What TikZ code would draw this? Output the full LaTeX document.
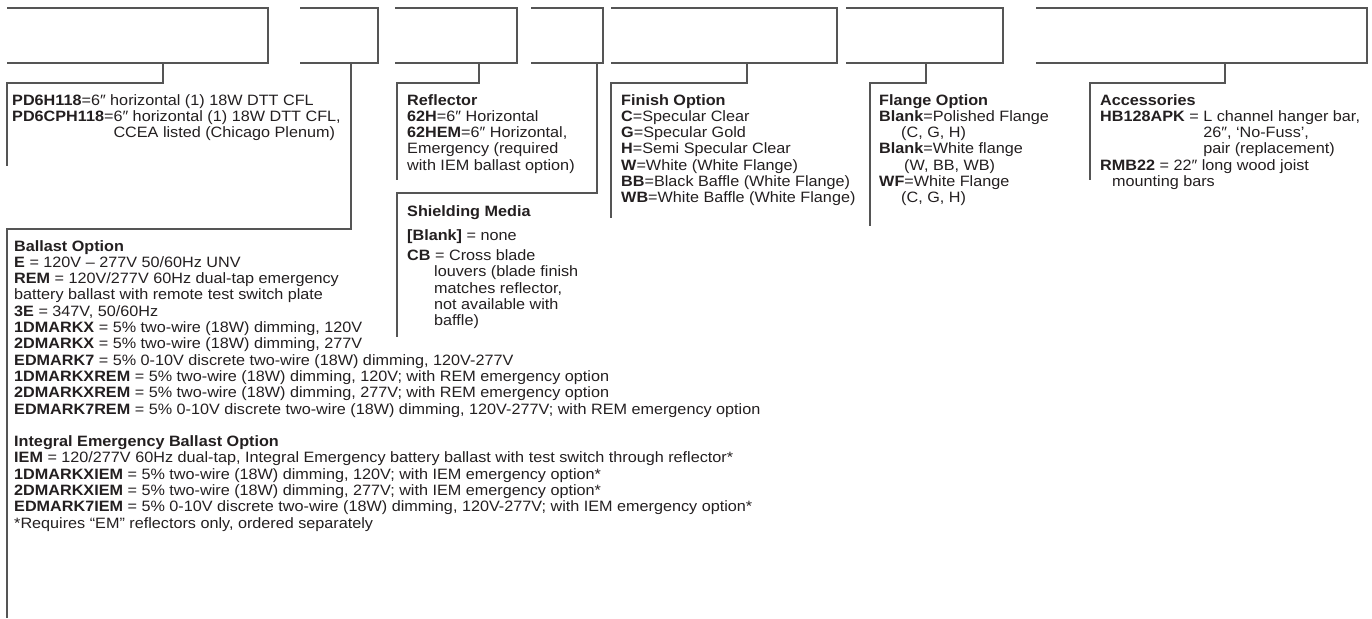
\documentclass[tikz,border=0pt]{standalone}
\usepackage{fontspec}
\setmainfont[FakeStretch=1.08]{Liberation Sans}
\definecolor{linegray}{HTML}{555555}
\definecolor{txtblack}{HTML}{231F20}
\begin{document}
\begin{tikzpicture}[x=1pt,y=-1pt,
  ln/.style={draw=linegray,line width=1.3pt},
  txt/.style={anchor=north west,inner sep=0pt,align=left,text=txtblack,
    font=\fontsize{15}{16.3}\selectfont}]
\useasboundingbox (0,0) rectangle (1372,618);
% code boxes (open on the left)
\coordinate (b1) at (7,8);    \coordinate (b1r) at (268,63);
\coordinate (b2) at (300,8);  \coordinate (b2r) at (378,63);
\coordinate (b3) at (395,8);  \coordinate (b3r) at (517,63);
\coordinate (b4) at (531,8);  \coordinate (b4r) at (603,63);
\coordinate (b5) at (611,8);  \coordinate (b5r) at (837,63);
\coordinate (b6) at (846,8);  \coordinate (b6r) at (1003,63);
\coordinate (b7) at (1036,8); \coordinate (b7r) at (1367,63);
\foreach \b in {b1,b2,b3,b4,b5,b6,b7}{
  \draw[ln] (\b) -| (\b r) -- (\b |- \b r);
}
% text blocks
\node[txt] (pd) at (12,94) {\textbf{PD6H118}=6″ horizontal (1) 18W DTT CFL\\
\textbf{PD6CPH118}=6″ horizontal (1) 18W DTT CFL,\\
\hphantom{\textbf{PD6CPH118}=}CCEA listed (Chicago Plenum)};
\node[txt] (ballast) at (14,240) {\textbf{Ballast Option}\\
\textbf{E} = 120V – 277V 50/60Hz UNV\\
\textbf{REM} = 120V/277V 60Hz dual-tap emergency\\
battery ballast with remote test switch plate\\
\textbf{3E} = 347V, 50/60Hz\\
\textbf{1DMARKX} = 5\% two-wire (18W) dimming, 120V\\
\textbf{2DMARKX} = 5\% two-wire (18W) dimming, 277V\\
\textbf{EDMARK7} = 5\% 0-10V discrete two-wire (18W) dimming, 120V-277V\\
\textbf{1DMARKXREM} = 5\% two-wire (18W) dimming, 120V; with REM emergency option\\
\textbf{2DMARKXREM} = 5\% two-wire (18W) dimming, 277V; with REM emergency option\\
\textbf{EDMARK7REM} = 5\% 0-10V discrete two-wire (18W) dimming, 120V-277V; with REM emergency option\\[16.3pt]
\textbf{Integral Emergency Ballast Option}\\
\textbf{IEM} = 120/277V 60Hz dual-tap, Integral Emergency battery ballast with test switch through reflector*\\
\textbf{1DMARKXIEM} = 5\% two-wire (18W) dimming, 120V; with IEM emergency option*\\
\textbf{2DMARKXIEM} = 5\% two-wire (18W) dimming, 277V; with IEM emergency option*\\
\textbf{EDMARK7IEM} = 5\% 0-10V discrete two-wire (18W) dimming, 120V-277V; with IEM emergency option*\\
*Requires “EM” reflectors only, ordered separately};
\node[txt] (refl) at (407,94) {\textbf{Reflector}\\
\textbf{62H}=6″ Horizontal\\
\textbf{62HEM}=6″ Horizontal,\\
Emergency (required\\
with IEM ballast option)};
\node[txt] (shield) at (407,205) {\textbf{Shielding Media}\\[8pt]
\textbf{[Blank]} = none\\[4pt]
\textbf{CB} = Cross blade\\
\hspace*{27pt}louvers (blade finish\\
\hspace*{27pt}matches reflector,\\
\hspace*{27pt}not available with\\
\hspace*{27pt}baffle)};
\node[txt] (finish) at (621,94) {\textbf{Finish Option}\\
\textbf{C}=Specular Clear\\
\textbf{G}=Specular Gold\\
\textbf{H}=Semi Specular Clear\\
\textbf{W}=White (White Flange)\\
\textbf{BB}=Black Baffle (White Flange)\\
\textbf{WB}=White Baffle (White Flange)};
\node[txt] (flange) at (879,94) {\textbf{Flange Option}\\
\textbf{Blank}=Polished Flange\\
\hspace*{22pt}(C, G, H)\\
\textbf{Blank}=White flange\\
\hspace*{25pt}(W, BB, WB)\\
\textbf{WF}=White Flange\\
\hspace*{22pt}(C, G, H)};
\node[txt] (acc) at (1100,94) {\textbf{Accessories}\\
\textbf{HB128APK} = L channel hanger bar,\\
\hphantom{\textbf{HB128APK} = }26″, ‘No-Fuss’,\\
\hphantom{\textbf{HB128APK} = }pair (replacement)\\
\textbf{RMB22} = 22″ long wood joist\\
\hspace*{12pt}mounting bars};
% connectors from code boxes to their text brackets
\coordinate (c1) at (163,63); \coordinate (k1) at (7,166);
\coordinate (c2) at (351,63); \coordinate (k2) at (7,618);
\coordinate (c3) at (479,63); \coordinate (k3) at (397,180);
\coordinate (c4) at (597,63); \coordinate (k4) at (397,337);
\coordinate (c5) at (747,63); \coordinate (k5) at (611,218);
\coordinate (c6) at (926,63); \coordinate (k6) at (870,226);
\coordinate (c7) at (1225,63); \coordinate (k7) at (1090,180);
\draw[ln] (c1) |- (7,83) -- (k1);
\draw[ln] (c2) |- (7,229) -- (k2);
\draw[ln] (c3) |- (397,83) -- (k3);
\draw[ln] (c4) |- (397,193) -- (k4);
\draw[ln] (c5) |- (611,83) -- (k5);
\draw[ln] (c6) |- (870,83) -- (k6);
\draw[ln] (c7) |- (1090,83) -- (k7);
\end{tikzpicture}
\end{document}
